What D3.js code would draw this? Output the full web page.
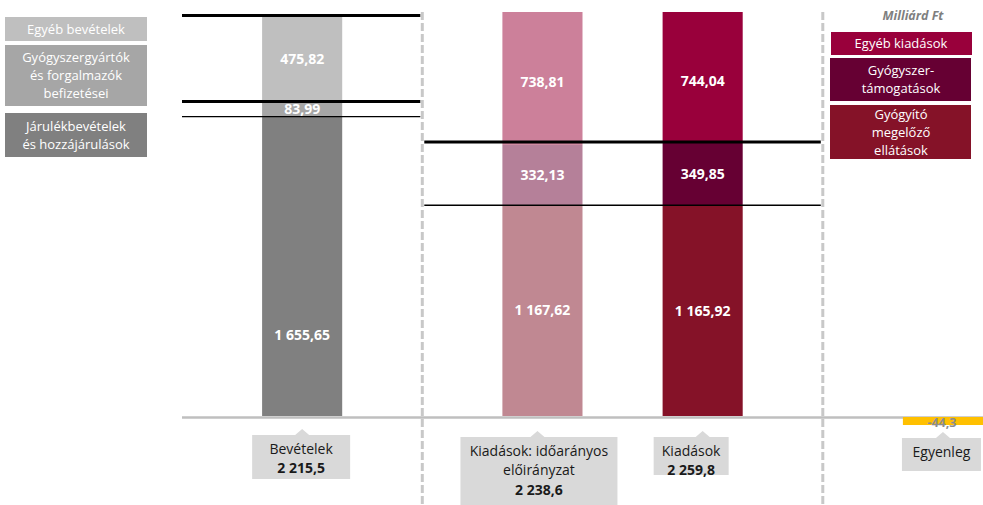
<!DOCTYPE html>
<html>
<head>
<meta charset="utf-8">
<script src="https://cdn.jsdelivr.net/npm/d3@7"></script>
<style>
  body { margin: 0; background: #fff; }
  svg { font-family: "Open Sans", sans-serif; }
  .val { fill: #fff; font-weight: bold; font-size: 14px; text-anchor: middle; }
  .leg { fill: #fff; font-size: 13px; text-anchor: middle; }
  .call { fill: #1a1a1a; font-size: 14px; text-anchor: middle; }
</style>
</head>
<body>
<div id="chart"></div>
<script>
// categories and their slot in a 10-slot band axis
const categories = ["Bevételek", "Kiadások: időarányos előirányzat", "Kiadások", "Egyenleg"];
const slots = [1, 4, 6, 9];
const totals = ["2 215,5", "2 238,6", "2 259,8", ""];

// stacked segments, bottom to top (Milliárd Ft)
const revenue = [1655.65, 83.99, 475.82];
const plannedExp = [1167.62, 332.13, 738.81];
const expenses = [1165.92, 349.85, 744.04];
const balance = -44.3;

const revenueNames = ["Járulékbevételek\nés hozzájárulások", "Gyógyszergyártók\nés forgalmazók\nbefizetései", "Egyéb bevételek"];
const expenseNames = ["Gyógyító\nmegelőző\nellátások", "Gyógyszer-\ntámogatások", "Egyéb kiadások"];

const revColors = ["#808080", "#a6a6a6", "#bfbfbf"];
const planColors = ["#c08892", "#b58099", "#cc809a"];
const expColors = ["#851228", "#660033", "#99003b"];

const fmt = v => d3.format(",.2f")(v).replace(/,/g, " ").replace(".", ",");

const W = 983, H = 505;
const svg = d3.select("#chart").append("svg").attr("width", W).attr("height", H);

const x = d3.scaleBand().domain(d3.range(10)).range([182, 983]).padding(0);
const y = d3.scaleLinear().domain([0, 2235]).range([416, 12]);

svg.append("clipPath").attr("id", "plot")
  .append("rect").attr("x", 0).attr("y", y(2235)).attr("width", W).attr("height", H);

function stack(vals) {
  let acc = 0;
  return vals.map((v, i) => { const d = { v, i, y0: acc, y1: acc + v }; acc += v; return d; });
}

const stacks = [
  { slot: slots[0], segs: stack(revenue), colors: revColors, labelPos: [0.27, 0.5, 0.5] },
  { slot: slots[1], segs: stack(plannedExp), colors: planColors, labelPos: [0.5, 0.5, 0.47] },
  { slot: slots[2], segs: stack(expenses), colors: expColors, labelPos: [0.5, 0.5, 0.47] }
];

// dashed dividers
[3, 8].forEach(s => {
  svg.append("line")
    .attr("x1", x(s)).attr("x2", x(s))
    .attr("y1", 12).attr("y2", H)
    .attr("stroke", "#c8c8c8").attr("stroke-width", 3)
    .attr("stroke-dasharray", "8,3");
});

const g = svg.append("g").attr("clip-path", "url(#plot)");
stacks.forEach(st => {
  g.selectAll(null).data(st.segs).enter().append("rect")
    .attr("x", x(st.slot))
    .attr("width", x.bandwidth())
    .attr("y", d => y(d.y1))
    .attr("height", d => y(d.y0) - y(d.y1))
    .attr("fill", d => st.colors[d.i]);
});

// baseline
svg.append("line")
  .attr("x1", 182).attr("x2", W)
  .attr("y1", y(0) + 1.5).attr("y2", y(0) + 1.5)
  .attr("stroke", "#bfbfbf").attr("stroke-width", 2.5);

// balance bar
svg.append("rect")
  .attr("x", x(slots[3])).attr("width", x.bandwidth())
  .attr("y", y(0) + 1).attr("height", y(balance) - y(0))
  .attr("fill", "#ffc000");
svg.append("text")
  .attr("x", x(slots[3]) + x.bandwidth() / 2 - 1)
  .attr("y", y(0) + 11)
  .attr("text-anchor", "middle")
  .attr("font-size", 12.5).attr("font-weight", "bold").attr("fill", "#8c8c8c")
  .text(String(balance).replace(".", ","));

// reference lines: revenue side
const rs = stacks[0].segs;
const leftLines = [
  { v: rs[2].y1, w: 3 },
  { v: rs[1].y1, w: 3 },
  { v: rs[0].y1, w: 1.3 }
];
svg.selectAll(null).data(leftLines).enter().append("line")
  .attr("x1", 182).attr("x2", x(3) - 2)
  .attr("y1", d => y(d.v)).attr("y2", d => y(d.v))
  .attr("stroke", "#000").attr("stroke-width", d => d.w);

// reference lines: expense side
const es = stacks[2].segs;
const rightLines = [
  { v: es[1].y1, w: 3 },
  { v: es[0].y1, w: 1.3 }
];
svg.selectAll(null).data(rightLines).enter().append("line")
  .attr("x1", x(3) + 2).attr("x2", x(8) - 2)
  .attr("y1", d => y(d.v)).attr("y2", d => y(d.v))
  .attr("stroke", "#000").attr("stroke-width", d => d.w);

// value labels
stacks.forEach(st => {
  svg.selectAll(null).data(st.segs).enter().append("text")
    .attr("class", "val")
    .attr("x", x(st.slot) + x.bandwidth() / 2)
    .attr("y", d => {
      const top = Math.max(y(d.y1), y(2235));
      const bot = y(d.y0);
      return bot - (bot - top) * st.labelPos[d.i] + 5;
    })
    .text(d => fmt(d.v));
});

// left legend
const legL = [
  { i: 2, y0: 17, h: 24 },
  { i: 1, y0: 45, h: 61 },
  { i: 0, y0: 113, h: 44 }
];
legL.forEach(l => {
  svg.append("rect").attr("x", 5).attr("y", l.y0).attr("width", 142).attr("height", l.h)
    .attr("fill", revColors[l.i]);
  const lines = revenueNames[l.i].split("\n");
  const t = svg.append("text").attr("class", "leg");
  lines.forEach((s, k) => {
    t.append("tspan").attr("x", 76)
      .attr("y", l.y0 + l.h / 2 + (k - (lines.length - 1) / 2) * 18 + 4.5)
      .text(s);
  });
});

// right legend
svg.append("text")
  .attr("x", 913).attr("y", 20)
  .attr("text-anchor", "middle")
  .attr("font-size", 12.5).attr("font-style", "italic").attr("font-weight", "bold")
  .attr("fill", "#7f7f7f")
  .text("Milliárd Ft");
const legR = [
  { i: 2, x0: 831, y0: 32, h: 23 },
  { i: 1, x0: 830, y0: 58, h: 43 },
  { i: 0, x0: 830, y0: 105, h: 54 }
];
legR.forEach(l => {
  svg.append("rect").attr("x", l.x0).attr("y", l.y0).attr("width", 141).attr("height", l.h)
    .attr("fill", expColors[l.i]);
  const lines = expenseNames[l.i].split("\n");
  const t = svg.append("text").attr("class", "leg");
  lines.forEach((s, k) => {
    t.append("tspan").attr("x", 901)
      .attr("y", l.y0 + l.h / 2 + (k - (lines.length - 1) / 2) * 18 + 4.5)
      .text(s);
  });
});

// callouts under the bars
const callouts = [
  { dx: -50, w: 98, y0: 435, h: 44, lines: ["Bevételek"] },
  { dx: -82, w: 157, y0: 437, h: 68, lines: ["Kiadások: időarányos", "előirányzat"] },
  { dx: -49, w: 75, y0: 437, h: 38, lines: ["Kiadások"] },
  { dx: -41, w: 79, y0: 438, h: 33, lines: ["Egyenleg"] }
];
callouts.forEach((c, i) => {
  const cx = x(slots[i]) + x.bandwidth() / 2;
  const px = i === 1 ? cx - 5 : cx;
  const x0 = cx + c.dx, x1 = x0 + c.w, y0 = c.y0, y1 = c.y0 + c.h;
  const p = d3.path();
  p.moveTo(x0, y0);
  p.lineTo(px - 7, y0);
  p.lineTo(px, y0 - 6);
  p.lineTo(px + 7, y0);
  p.lineTo(x1, y0);
  p.lineTo(x1, y1);
  p.lineTo(x0, y1);
  p.closePath();
  svg.append("path").attr("d", p.toString()).attr("fill", "#d9d9d9");
  const tx = x0 + c.w / 2;
  const rows = c.lines.concat(totals[i] ? [totals[i]] : []);
  const t = svg.append("text").attr("class", "call");
  rows.forEach((s, k) => {
    t.append("tspan").attr("x", tx)
      .attr("y", y0 + 18.5 + k * 19.5)
      .attr("font-weight", k === c.lines.length ? "bold" : null)
      .text(s);
  });
});
</script>
</body>
</html>
